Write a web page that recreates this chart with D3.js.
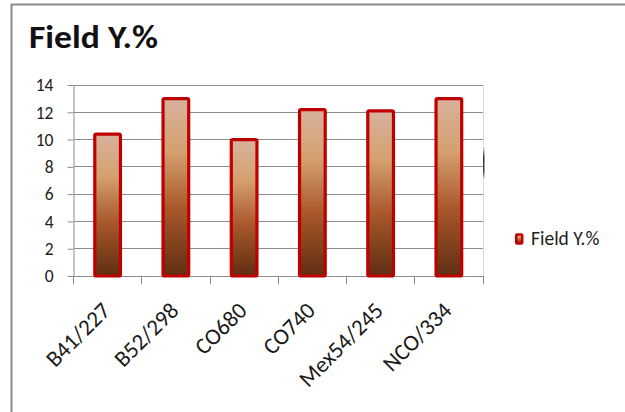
<!DOCTYPE html>
<html><head><meta charset="utf-8">
<script src="https://cdn.jsdelivr.net/npm/d3@7"></script>
<style>body{margin:0;background:#fff}svg{display:block}</style>
</head><body>
<script>
const categories = ["B41/227","B52/298","CO680","CO740","Mex54/245","NCO/334"];
const values = [10.4, 13.0, 10.0, 12.2, 12.1, 13.0];
const yTicks = [0,2,4,6,8,10,12,14];
const seriesName = "Field Y.%";
const title = "Field Y.%";

const W = 625, H = 412;
const svg = d3.select("body").append("svg").attr("width",W).attr("height",H);
const font = "Carlito, Lato, 'Open Sans', sans-serif";

// outer frame
svg.append("rect").attr("x",11.5).attr("y",4.5).attr("width",640).attr("height",440)
  .attr("fill","#fff").attr("stroke","#8a8a8a").attr("stroke-width",2);

const plot = {l:73.5, r:483, t:85, b:276};
const x = d3.scaleBand().domain(categories).range([plot.l, plot.r]).paddingInner(0.624).paddingOuter(0.312);
const xb = d3.scaleBand().domain(categories).range([plot.l, plot.r]);
const y = d3.scaleLinear().domain([0,14]).range([plot.b, plot.t]);

const defs = svg.append("defs");
const g = defs.append("linearGradient").attr("id","bg").attr("x1",0).attr("x2",0).attr("y1",0).attr("y2",1);
[["0%","#d8b29e"],["30%","#d4a06e"],["62%","#a9582b"],["100%","#5f2e12"]].forEach(([o,c])=>
  g.append("stop").attr("offset",o).attr("stop-color",c));
const sh = defs.append("linearGradient").attr("id","sh").attr("x1",0).attr("x2",0).attr("y1",0).attr("y2",1);
[["0%","#ffffff"],["35%","#333333"],["75%","#444444"],["100%","#ffffff"]].forEach(([o,c])=>
  sh.append("stop").attr("offset",o).attr("stop-color",c));

// gridlines
svg.append("g").selectAll("line").data(yTicks.filter(d=>d>0)).join("line")
  .attr("x1",plot.l).attr("x2",plot.r).attr("y1",d=>y(d)).attr("y2",d=>y(d))
  .attr("stroke","#8c8c8c").attr("stroke-width",1).attr("shape-rendering","crispEdges");
// right edge of plot
svg.append("line").attr("x1",plot.r).attr("x2",plot.r).attr("y1",plot.t).attr("y2",plot.b)
  .attr("stroke","#d8d8d8").attr("shape-rendering","crispEdges");
svg.append("rect").attr("x",plot.r).attr("y",y(9.6)).attr("width",1.5).attr("height",y(7)-y(9.6))
  .attr("fill","url(#sh)");

// y axis
const yAxis = d3.axisLeft(y).tickValues(yTicks).tickSize(6).tickSizeOuter(0);
const ya = svg.append("g").attr("transform",`translate(${plot.l},0)`).call(yAxis);
ya.select(".domain").attr("stroke","#8c8c8c");
ya.selectAll(".tick line").attr("stroke","#8c8c8c");
ya.selectAll(".tick text").attr("font-family",font).attr("font-size",17.5).attr("fill","#222").attr("x",-20).attr("dy","0.33em");

// x axis
const xAxis = d3.axisBottom(xb).tickSize(0).tickSizeOuter(0);
const xa = svg.append("g").attr("transform",`translate(0,${plot.b})`).call(xAxis);
xa.select(".domain").attr("stroke","#8c8c8c");
// tick marks at category boundaries
svg.append("g").selectAll("line").data(categories.map(c=>xb(c)).concat([plot.r])).join("line")
  .attr("x1",d=>d).attr("x2",d=>d).attr("y1",plot.b).attr("y2",plot.b+8)
  .attr("stroke","#8c8c8c").attr("shape-rendering","crispEdges");
xa.selectAll(".tick text").attr("font-family",font).attr("font-size",23).attr("fill","#1a1a1a")
  .attr("text-anchor","end").attr("dy",0).attr("y",0)
  .attr("transform","translate(4,36) rotate(-45)");

// bars
svg.append("g").selectAll("rect").data(values).join("rect")
  .attr("x",(d,i)=>x(categories[i])).attr("width",x.bandwidth())
  .attr("y",d=>y(d)).attr("height",d=>plot.b-y(d))
  .attr("fill","url(#bg)").attr("stroke","#c00000").attr("stroke-width",3.2)
  .attr("rx",1.5);

// title
svg.append("text").attr("x",29).attr("y",48).text(title)
  .attr("font-family",font).attr("font-weight","bold").attr("font-size",32)
  .attr("textLength",129).attr("lengthAdjust","spacingAndGlyphs").attr("fill","#111");

// legend
svg.append("rect").attr("x",516.2).attr("y",234.5).attr("width",6).attr("height",9)
  .attr("fill","url(#bg)").attr("stroke","#c00000").attr("stroke-width",2.5).attr("rx",1);
svg.append("text").attr("x",531).attr("y",245).text(seriesName)
  .attr("font-family",font).attr("font-size",19.5).attr("fill","#222");
</script>
</body></html>
